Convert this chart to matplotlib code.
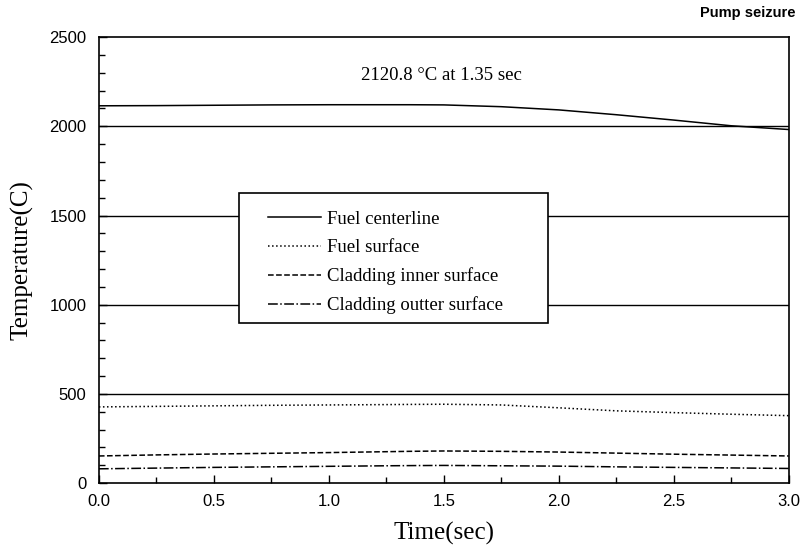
import numpy as np
import matplotlib
matplotlib.use("Agg")
import matplotlib.pyplot as plt
from matplotlib.ticker import MultipleLocator
from matplotlib.patches import Rectangle

# time points (sec) and temperatures (C)
time = [0.0, 0.25, 0.5, 0.75, 1.0, 1.25, 1.35, 1.5, 1.75, 2.0, 2.25, 2.5, 2.75, 3.0]
fuel_center = [2115, 2116, 2118, 2120, 2121, 2121, 2121, 2120, 2110, 2092, 2065, 2035, 2003, 1982]
fuel_surface = [427, 430, 433, 436, 438, 440, 441, 442, 438, 422, 405, 395, 386, 378]
clad_inner = [152, 158, 163, 167, 171, 176, 178, 180, 178, 174, 168, 162, 157, 152]
clad_outer = [80, 84, 88, 91, 94, 97, 98, 99, 97, 95, 91, 88, 85, 82]

labels = ["Fuel centerline", "Fuel surface", "Cladding inner surface", "Cladding outter surface"]
styles = ["-", ":", "--", "-."]
gridlines = [500, 1000, 1500, 2000]

serif = ["Liberation Serif", "DejaVu Serif"]
sans = ["Liberation Sans", "DejaVu Sans"]

fig = plt.figure(figsize=(8.04, 5.54), dpi=100)
ax = fig.add_axes([0.123, 0.128, 0.858, 0.805])

for g in gridlines:
    ax.axhline(g, color="black", lw=1.0, zorder=1)

for ys, ls, lab in zip([fuel_center, fuel_surface, clad_inner, clad_outer], styles, labels):
    ax.plot(time, ys, ls, color="black", lw=1.1, label=lab, zorder=2)

ax.set_xlim(0, 3.0)
ax.set_ylim(0, 2500)
ax.xaxis.set_major_locator(MultipleLocator(0.5))
ax.xaxis.set_minor_locator(MultipleLocator(0.25))
ax.yaxis.set_major_locator(MultipleLocator(500))
ax.yaxis.set_minor_locator(MultipleLocator(100))
ax.tick_params(which="both", direction="in", top=False, right=False, width=1.0)
ax.tick_params(which="major", length=6, labelsize=12)
ax.tick_params(axis="y", which="major", pad=9)
ax.tick_params(axis="x", which="major", pad=8)
ax.tick_params(which="minor", length=4)
ax.set_xticks(np.arange(0, 3.01, 0.5))
ax.set_xticklabels([f"{v:.1f}" for v in np.arange(0, 3.01, 0.5)])
for lbl in ax.get_xticklabels() + ax.get_yticklabels():
    lbl.set_family(sans)
for s in ax.spines.values():
    s.set_linewidth(1.2)

ax.set_xlabel("Time(sec)", family=serif, fontsize=18, labelpad=9)
ax.set_ylabel("Temperature(C)", family=serif, fontsize=18, labelpad=11)

ax.text(1.49, 2287, "2120.8 \u00b0C at 1.35 sec", family=serif, fontsize=13.5,
        ha="center", va="center")

# legend box drawn separately so its padding can match the reference
ax.add_patch(Rectangle((0.203, 0.359), 0.448, 0.291, transform=ax.transAxes,
                       facecolor="white", edgecolor="black", lw=1.2, zorder=3))
leg = ax.legend(loc="upper left", bbox_to_anchor=(0.245, 0.611), frameon=False,
                handlelength=2.85, handletextpad=0.3, labelspacing=0.6,
                borderpad=0, borderaxespad=0,
                prop={"family": serif, "size": 13.5})
leg.set_zorder(4)

fig.text(0.99, 0.977, "Pump seizure", family=sans, fontsize=10.5, weight="bold",
         ha="right", va="center")

fig.savefig("out.png", dpi=100)
